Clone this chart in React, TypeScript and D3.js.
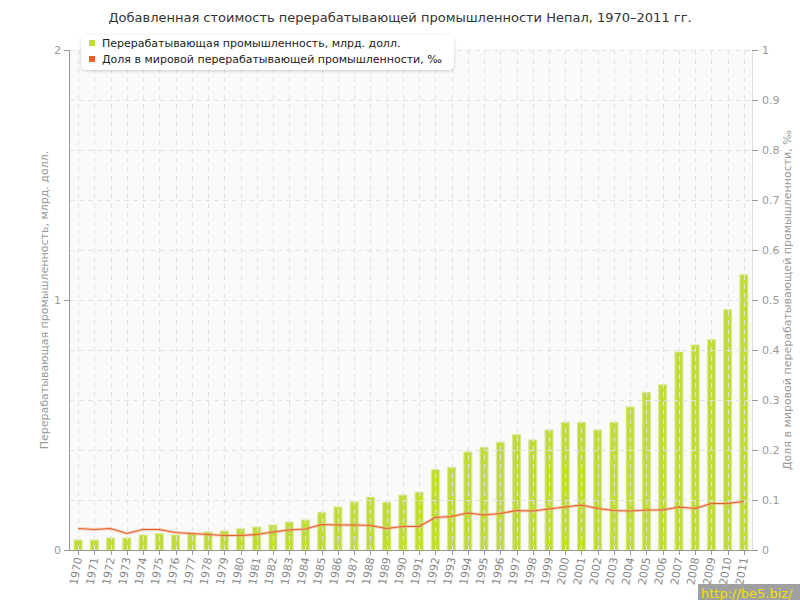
import React, { useRef, useEffect } from "react";
import * as d3 from "d3";

// years on the x axis
const years = d3.range(1970, 2012).map(String);

// Manufacturing value added, bn USD (left axis)
const valueAdded = [
  0.04, 0.04, 0.048, 0.048, 0.06, 0.065, 0.06, 0.065, 0.072, 0.076,
  0.085, 0.092, 0.1, 0.112, 0.12, 0.151, 0.172, 0.192, 0.211, 0.191,
  0.22, 0.231, 0.321, 0.331, 0.392, 0.411, 0.431, 0.461, 0.44, 0.48,
  0.511, 0.511, 0.48, 0.511, 0.572, 0.631, 0.661, 0.792, 0.82, 0.841,
  0.961, 1.101,
];

// share in world manufacturing, per mille (right axis)
const worldShare = [
  0.043, 0.041, 0.043, 0.033, 0.041, 0.041, 0.035, 0.033, 0.031, 0.029,
  0.029, 0.031, 0.036, 0.04, 0.042, 0.051, 0.05, 0.05, 0.049, 0.043,
  0.047, 0.047, 0.065, 0.067, 0.074, 0.07, 0.073, 0.079, 0.078, 0.082,
  0.086, 0.09, 0.083, 0.079, 0.078, 0.08, 0.08, 0.086, 0.083, 0.093,
  0.093, 0.097,
];

const leftTicks = [0, 1, 2];
const leftGrid = d3.range(0, 2.01, 0.2);
const rightTicks = d3.range(0, 1.01, 0.1);

const title = "Добавленная стоимость перерабатывающей промышленности Непал, 1970–2011 гг.";
const seriesNames = [
  "Перерабатывающая промышленность, млрд. долл.",
  "Доля в мировой перерабатывающей промышленности, ‰",
];
const seriesColors = ["#bfdc3a", "#e5612b"];

const App = () => {
  const svgRef = useRef(null);

  useEffect(() => {
    const width = 800;
    const height = 600;
    const margin = { top: 50, right: 48, bottom: 50, left: 70 };
    const font = "DejaVu Sans, Verdana, sans-serif";

    const svg = d3.select(svgRef.current).attr("width", width).attr("height", height);
    svg.selectAll("*").remove();

    const x = d3.scaleBand().domain(years).range([margin.left, width - margin.right]).padding(0);
    const yL = d3.scaleLinear().domain([0, 2]).range([height - margin.bottom, margin.top]);
    const yR = d3.scaleLinear().domain([0, 1]).range([height - margin.bottom, margin.top]);
    const cx = (d: string) => (x(d) as number) + x.bandwidth() / 2;

    svg.append("rect").attr("width", width).attr("height", height).attr("fill", "#fff");

    // plot background
    svg.append("rect")
      .attr("x", margin.left).attr("y", margin.top)
      .attr("width", width - margin.left - margin.right)
      .attr("height", height - margin.top - margin.bottom)
      .attr("fill", "#fafafa");

    // title
    svg.append("text")
      .attr("x", 400).attr("y", 22)
      .attr("text-anchor", "middle")
      .style("font-family", font).style("font-size", "13px")
      .attr("fill", "#333")
      .text(title);

    // bars
    svg.append("g").selectAll("rect")
      .data(valueAdded)
      .join("rect")
      .attr("x", (d, i) => cx(years[i]) - 4)
      .attr("width", 8)
      .attr("y", (d) => yL(d))
      .attr("height", (d) => yL(0) - yL(d))
      .attr("fill", seriesColors[0])
      .attr("stroke", "#d9ea8e")
      .attr("stroke-width", 1);

    // grid on top (dashed, light)
    const grid = svg.append("g")
      .attr("stroke", "#e2e2e2")
      .attr("stroke-dasharray", "5,4")
      .attr("stroke-width", 1);
    grid.selectAll("line.h")
      .data(leftGrid.filter((v) => v > 0))
      .join("line")
      .attr("class", "h")
      .attr("x1", margin.left).attr("x2", width - margin.right)
      .attr("y1", (d) => Math.round(yL(d)) + 0.5).attr("y2", (d) => Math.round(yL(d)) + 0.5);
    grid.selectAll("line.v")
      .data(years)
      .join("line")
      .attr("class", "v")
      .attr("x1", (d) => Math.round(cx(d)) + 0.5).attr("x2", (d) => Math.round(cx(d)) + 0.5)
      .attr("y1", margin.top).attr("y2", height - margin.bottom);

    // line
    const line = d3.line<number>()
      .x((d, i) => cx(years[i]))
      .y((d) => yR(d));
    svg.append("path")
      .datum(worldShare)
      .attr("d", line)
      .attr("fill", "none")
      .attr("stroke", "#f2a27e")
      .attr("stroke-opacity", 0.5)
      .attr("stroke-width", 3);
    svg.append("path")
      .datum(worldShare)
      .attr("d", line)
      .attr("fill", "none")
      .attr("stroke", seriesColors[1])
      .attr("stroke-width", 1.2);

    // left axis
    const axisColor = "#999";
    const labelColor = "#999";
    const gL = svg.append("g");
    gL.append("line")
      .attr("x1", margin.left - 0.5).attr("x2", margin.left - 0.5)
      .attr("y1", margin.top).attr("y2", height - margin.bottom)
      .attr("stroke", axisColor);
    gL.selectAll("line.t")
      .data(leftTicks)
      .join("line")
      .attr("class", "t")
      .attr("x1", margin.left - 6).attr("x2", margin.left)
      .attr("y1", (d) => Math.round(yL(d)) + 0.5).attr("y2", (d) => Math.round(yL(d)) + 0.5)
      .attr("stroke", axisColor);
    gL.selectAll("text")
      .data(leftTicks)
      .join("text")
      .attr("x", margin.left - 9).attr("y", (d) => yL(d) + 4)
      .attr("text-anchor", "end")
      .style("font-family", font).style("font-size", "11px")
      .attr("fill", labelColor)
      .text((d) => d);

    // right axis
    const xr = width - margin.right;
    const gR = svg.append("g");
    gR.append("line")
      .attr("x1", xr + 0.5).attr("x2", xr + 0.5)
      .attr("y1", margin.top).attr("y2", height - margin.bottom)
      .attr("stroke", "#ddd");
    gR.selectAll("line.t")
      .data(rightTicks)
      .join("line")
      .attr("class", "t")
      .attr("x1", xr).attr("x2", xr + 6)
      .attr("y1", (d) => Math.round(yR(d)) + 0.5).attr("y2", (d) => Math.round(yR(d)) + 0.5)
      .attr("stroke", axisColor);
    gR.selectAll("text")
      .data(rightTicks)
      .join("text")
      .attr("x", xr + 10).attr("y", (d) => yR(d) + 4)
      .style("font-family", font).style("font-size", "11px")
      .attr("fill", labelColor)
      .text((d) => d3.format("~g")(+d.toFixed(1)));

    // bottom axis
    const yb = height - margin.bottom;
    const gB = svg.append("g");
    gB.append("line")
      .attr("x1", margin.left).attr("x2", xr)
      .attr("y1", yb + 0.5).attr("y2", yb + 0.5)
      .attr("stroke", axisColor);
    gB.selectAll("line.t")
      .data(years)
      .join("line")
      .attr("class", "t")
      .attr("x1", (d) => Math.round(cx(d)) + 0.5).attr("x2", (d) => Math.round(cx(d)) + 0.5)
      .attr("y1", yb).attr("y2", yb + 5)
      .attr("stroke", axisColor);
    gB.selectAll("text")
      .data(years)
      .join("text")
      .attr("transform", (d) => `translate(${cx(d) + 4},${yb + 8}) rotate(-80)`)
      .attr("text-anchor", "end")
      .style("font-family", font).style("font-size", "11px")
      .attr("fill", "#888")
      .text((d) => d);

    // axis titles
    svg.append("text")
      .attr("transform", `translate(48,${(margin.top + yb) / 2}) rotate(-90)`)
      .attr("text-anchor", "middle")
      .style("font-family", font).style("font-size", "11px")
      .attr("fill", "#999")
      .text(seriesNames[0]);
    svg.append("text")
      .attr("transform", `translate(791,${(margin.top + yb) / 2}) rotate(-90)`)
      .attr("text-anchor", "middle")
      .style("font-family", font).style("font-size", "11px")
      .attr("fill", "#999")
      .text(seriesNames[1]);

    // legend
    const lg = svg.append("g").attr("transform", "translate(81,35)");
    const defs = svg.append("defs");
    const filt = defs.append("filter").attr("id", "sh").attr("x", "-10%").attr("y", "-30%").attr("width", "120%").attr("height", "160%");
    filt.append("feDropShadow").attr("dx", 0).attr("dy", 1).attr("stdDeviation", 1.5).attr("flood-color", "#000").attr("flood-opacity", 0.2);
    lg.append("rect")
      .attr("width", 373).attr("height", 35).attr("rx", 5)
      .attr("fill", "#fff")
      .attr("filter", "url(#sh)");
    seriesNames.forEach((name, i) => {
      lg.append("rect")
        .attr("x", 8).attr("y", 5 + i * 16)
        .attr("width", 6).attr("height", 6)
        .attr("fill", seriesColors[i]);
      lg.append("text")
        .attr("x", 21).attr("y", 12 + i * 16)
        .style("font-family", font).style("font-size", "11px")
        .attr("fill", "#222")
        .text(name);
    });

    // watermark
    svg.append("rect")
      .attr("x", 698).attr("y", 584).attr("width", 102).attr("height", 16)
      .attr("fill", "#a0a0a0");
    svg.append("text")
      .attr("x", 701).attr("y", 598)
      .style("font-family", font).style("font-size", "13px")
      .attr("fill", "#f0e000")
      .text("http://be5.biz/");
  }, []);

  return <svg ref={svgRef} style={{ position: "absolute", left: 0, top: 0 }}></svg>;
};

export default App;
